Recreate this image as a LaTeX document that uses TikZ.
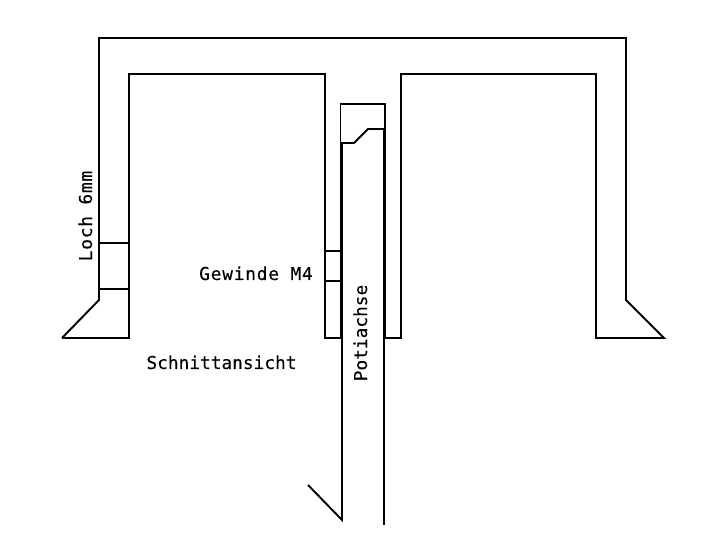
\documentclass[tikz,border=0pt]{standalone}
\usepackage{fontspec}
\setmonofont[FakeBold=0.2]{DejaVu Sans Mono}
\tikzset{
  part/.style={line width=1.9pt,line cap=butt,line join=miter,black},
  lab/.style={font=\ttfamily\fontsize{17.8}{20}\selectfont,inner sep=0pt,anchor=base,black},
  labwide/.style={lab,font=\ttfamily\fontsize{17.8}{20}\selectfont\addfontfeature{LetterSpace=4.5}}
}
\begin{document}
\begin{tikzpicture}[x=1pt,y=-1pt]
\useasboundingbox (0,0) rectangle (705,548);
% outer shell
\draw[part] (62,338) -- (99,300) -- (99,38) -- (626,38) -- (626,300) -- (664,338) -- (596,338) -- (596,74) -- (401,74) -- (401,338) -- (385,338);
\draw[part] (62,338) -- (129,338) -- (129,74) -- (325,74) -- (325,338) -- (341,338);
% hole and thread
\draw[part] (99,243) -- (129,243);
\draw[part] (99,289) -- (129,289);
\draw[part] (325,251) -- (341,251);
\draw[part] (325,281) -- (341,281);
% bore
\draw[part] (340.5,338) -- (340.5,104) -- (385,104) -- (385,338);
% axle
\draw[part] (385,129) -- (368,129) -- (354,143) -- (342,143) -- (342,520) -- (308,485);
\draw[part] (384,129) -- (384,525);
% labels
\node[lab] (schnitt) at (221.5,369) {Schnittansicht};
\node[labwide] (gewinde) at (256,280) {Gewinde M4};
\node[labwide,rotate=90] (loch) at (92,216) {Loch 6mm};
\node[lab,rotate=90] (poti) at (367,333) {Potiachse};
\end{tikzpicture}
\end{document}
